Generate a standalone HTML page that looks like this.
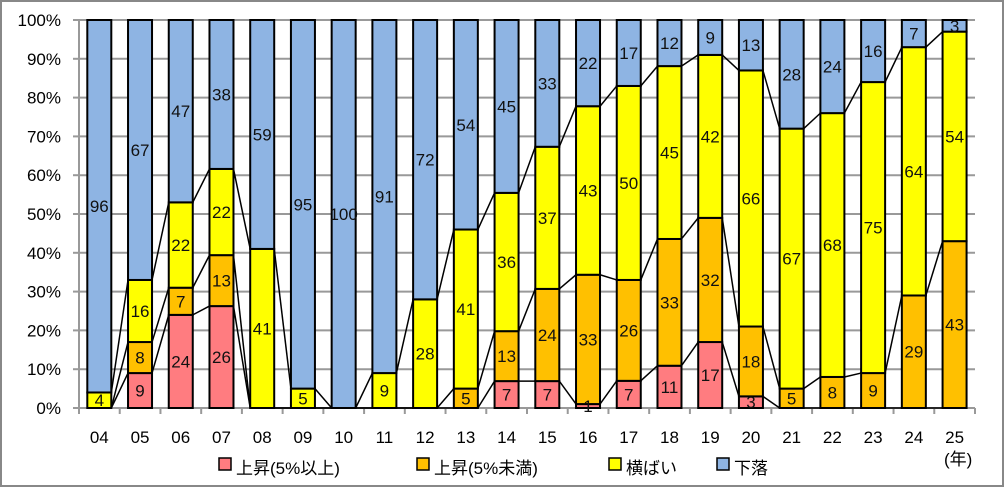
<!DOCTYPE html>
<html><head><meta charset="utf-8"><style>
html,body{margin:0;padding:0;background:#fff;}
svg{display:block;font-family:"Liberation Sans","Noto Sans CJK JP",sans-serif;}
</style></head><body>
<svg id="c" width="1005" height="488" xmlns="http://www.w3.org/2000/svg">
<rect x="1" y="1" width="1002" height="485" fill="#fff" stroke="#888" stroke-width="2"/>
<g id="g"></g>
<g font-size="17" fill="#000">
<rect x="219" y="458" width="12" height="12" fill="#FF7C80" stroke="#000" stroke-width="1.5"/>
<text x="236" y="474">上昇(5%以上)</text>
<rect x="417" y="458" width="12" height="12" fill="#FFC000" stroke="#000" stroke-width="1.5"/>
<text x="434" y="474">上昇(5%未満)</text>
<rect x="609" y="458" width="12" height="12" fill="#FFFF00" stroke="#000" stroke-width="1.5"/>
<text x="626" y="474">横ばい</text>
<rect x="717" y="458" width="12" height="12" fill="#8EB4E3" stroke="#000" stroke-width="1.5"/>
<text x="734" y="474">下落</text>
<text x="944" y="465">(年)</text>
</g>
</svg>
<script>
var d=[["04",0,0,4,96],["05",9,8,16,67],["06",24,7,22,47],["07",26,13,22,38],["08",0,0,41,59],["09",0,0,5,95],["10",0,0,0,100],["11",0,0,9,91],["12",0,0,28,72],["13",0,5,41,54],["14",7,13,36,45],["15",7,24,37,33],["16",1,33,43,22],["17",7,26,50,17],["18",11,33,45,12],["19",17,32,42,9],["20",3,18,66,13],["21",0,5,67,28],["22",0,8,68,24],["23",0,9,75,16],["24",0,29,64,7],["25",0,43,54,3]];
var cols=["#FF7C80","#FFC000","#FFFF00","#8EB4E3"];
var x0=79,cw=(975-79)/22,y0=408,yt=20,H=y0-yt,bw=24,off=8.3;
var s="";
for(var i=0;i<=10;i++){var y=y0-H*i/10;
 if(i>0)s+='<line x1="'+x0+'" y1="'+y+'" x2="975" y2="'+y+'" stroke="#999" stroke-width="2"/>';
 s+='<text x="61" y="'+(y+6)+'" font-size="17" text-anchor="end">'+(i*10)+'%</text>';
 s+='<line x1="'+(x0-6)+'" y1="'+y+'" x2="'+x0+'" y2="'+y+'" stroke="#999" stroke-width="2"/>';}
s+='<line x1="'+x0+'" y1="'+yt+'" x2="'+x0+'" y2="'+y0+'" stroke="#999" stroke-width="2"/>';
s+='<line x1="'+x0+'" y1="'+y0+'" x2="975" y2="'+y0+'" stroke="#999" stroke-width="2"/>';
for(var i=0;i<=22;i++){var x=x0+cw*i;s+='<line x1="'+x+'" y1="'+y0+'" x2="'+x+'" y2="'+(y0+6)+'" stroke="#999" stroke-width="2"/>';}
var tops=[],labs="",bars="";
d.forEach(function(r,i){
 var sum=r[1]+r[2]+r[3]+r[4],bx=x0+cw*i+off,c=0,t=[];
 for(var k=0;k<4;k++){var v=r[k+1];var ya=y0-H*c/sum;c+=v;var yb=y0-H*c/sum;t.push(yb);
  if(v>0){bars+='<rect x="'+bx+'" y="'+yb+'" width="'+bw+'" height="'+(ya-yb)+'" fill="'+cols[k]+'" stroke="#000" stroke-width="2"/>';
   labs+='<text x="'+(bx+bw/2)+'" y="'+((ya+yb)/2+6)+'" font-size="17" text-anchor="middle" fill="#111">'+v+'</text>';}}
 tops.push(t);
 s+='<text x="'+(bx+bw/2)+'" y="443" font-size="17" text-anchor="middle">'+r[0]+'</text>';
});
var ln="";
for(var i=0;i<21;i++){var xa=x0+cw*i+off+bw,xb=x0+cw*(i+1)+off;
 for(var k=0;k<3;k++)ln+='<line x1="'+xa+'" y1="'+tops[i][k]+'" x2="'+xb+'" y2="'+tops[i+1][k]+'" stroke="#000" stroke-width="1.5"/>';}
document.getElementById("g").innerHTML=s+ln+bars+labs;
</script>
</body></html>
